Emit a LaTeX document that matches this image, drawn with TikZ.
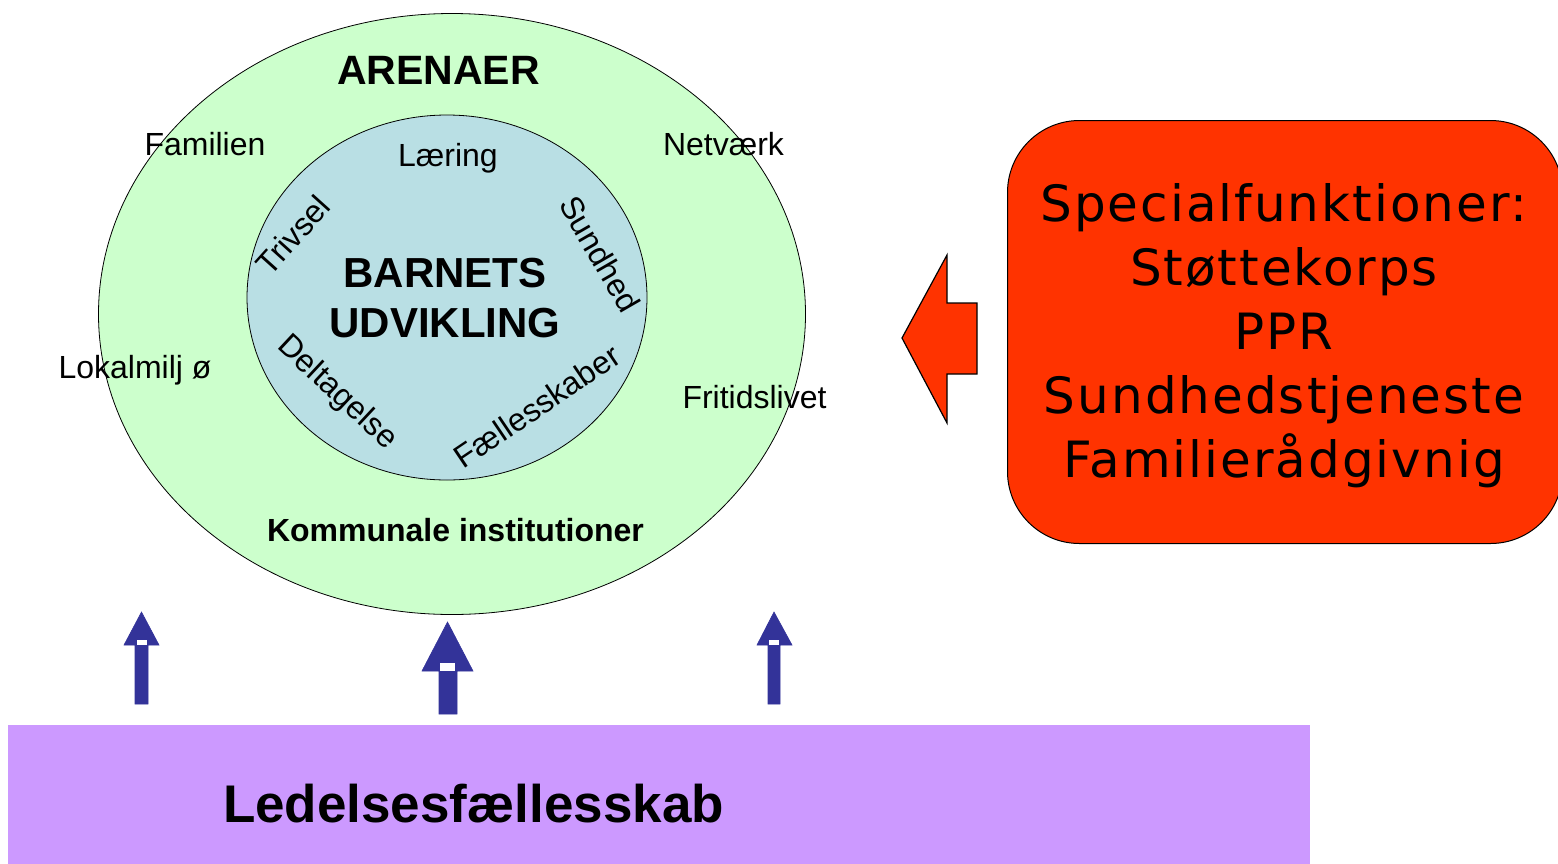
\documentclass[tikz,border=0pt]{standalone}
\usepackage{fontspec}
\setmainfont{Liberation Sans}
\newfontfamily\specfont[LetterSpace=4]{DejaVu Sans}
\usetikzlibrary{shapes.geometric}
\definecolor{arenagreen}{HTML}{CCFFCC}
\definecolor{childblue}{HTML}{B9DFE4}
\definecolor{specred}{HTML}{FF3300}
\definecolor{leadpurple}{HTML}{CC99FF}
\definecolor{arrowblue}{HTML}{333399}
\begin{document}
\begin{tikzpicture}[x=1pt,y=-1pt,
  lbl/.style={font=\fontsize{32}{38}\selectfont, inner sep=0, anchor=base},
  boldlbl/.style={font=\bfseries\fontsize{32}{38}\selectfont, inner sep=0, anchor=base},
  ringlbl/.style={font=\fontsize{32}{38}\selectfont, inner sep=0},
  bluearrow/.style={fill=arrowblue, draw=arrowblue, line width=0.6pt},
  gapmark/.style={fill=white, draw=none}]
\useasboundingbox (0,0) rectangle (1558,863);

% purple base
\node[fill=leadpurple, draw=none, minimum width=1302pt, minimum height=140pt, inner sep=0, anchor=north west] (lead) at (8,725) {};
\node[font=\bfseries\fontsize{53}{60}\selectfont, inner sep=0, anchor=base] (leadtxt) at (473.5,822) {Ledelsesfællesskab};

% outer ellipse
\node[ellipse, draw=black, line width=0.8pt, fill=arenagreen, minimum width=707pt, minimum height=601pt, inner sep=0] (outer) at (452,314) {};
% inner ellipse
\node[ellipse, draw=black, line width=0.8pt, fill=childblue, minimum width=400pt, minimum height=365pt, inner sep=0] (inner) at (447,297.5) {};

\node[font=\bfseries\fontsize{41}{48}\selectfont, inner sep=0, anchor=base] (arenaer) at (438.5,84) {ARENAER};
\node[lbl] (familien) at (205,155) {Familien};
\node[lbl] (netvaerk) at (723.5,155) {Netværk};
\node[lbl] (lokal) at (135,378) {Lokalmilj ø};
\node[lbl] (fritid) at (754.5,408) {Fritidslivet};
\node[boldlbl] (kommunale) at (455.5,541) {Kommunale institutioner};

\node[lbl] (laering) at (448,166) {Læring};
\node[font=\bfseries\fontsize{42}{50}\selectfont, inner sep=0, anchor=base] (barnets) at (445,287) {BARNETS};
\node[font=\bfseries\fontsize{42}{50}\selectfont, inner sep=0, anchor=base] (udvikling) at (445,337) {UDVIKLING};
\node[ringlbl, rotate=48] (trivsel) at (293,235) {Trivsel};
\node[ringlbl, rotate=-60] (sundhed) at (600,254) {Sundhed};
\node[ringlbl, rotate=-43] (deltagelse) at (337,393) {Deltagelse};
\node[ringlbl, rotate=34] (faelles) at (537,406) {Fællesskaber};

% red box
\node[fill=specred, draw=black, line width=1pt, rounded corners=72pt, minimum width=555pt, minimum height=423pt, inner sep=0, anchor=north west] (spec) at (1007,120) {};
\node[font=\specfont\fontsize{50}{64}\selectfont, align=center, inner sep=0] (spectxt) at (1284,336) {Specialfunktioner:\\Støttekorps\\PPR\\Sundhedstjeneste\\Familierådgivnig};

% red arrow
\draw[fill=specred, draw=black, line width=1.2pt] (902,338) -- (947,255) -- (947,303) -- (977,303) -- (977,374) -- (947,374) -- (947,423) -- cycle;

% blue arrows
\draw[bluearrow] (135,704) -- (135,645) -- (124,645) -- (141.5,612) -- (159,645) -- (148,645) -- (148,704) -- cycle;
\fill[gapmark] (136.5,640) rectangle (146.5,644.5);
\draw[bluearrow] (439,714) -- (439,671) -- (422,671) -- (447.5,622) -- (473,671) -- (457,671) -- (457,714) -- cycle;
\fill[gapmark] (439.5,663) rectangle (455,670.5);
\draw[bluearrow] (768,704) -- (768,645) -- (757,645) -- (774,612) -- (792,645) -- (780,645) -- (780,704) -- cycle;
\fill[gapmark] (769,640) rectangle (779,644.5);
\end{tikzpicture}
\end{document}
